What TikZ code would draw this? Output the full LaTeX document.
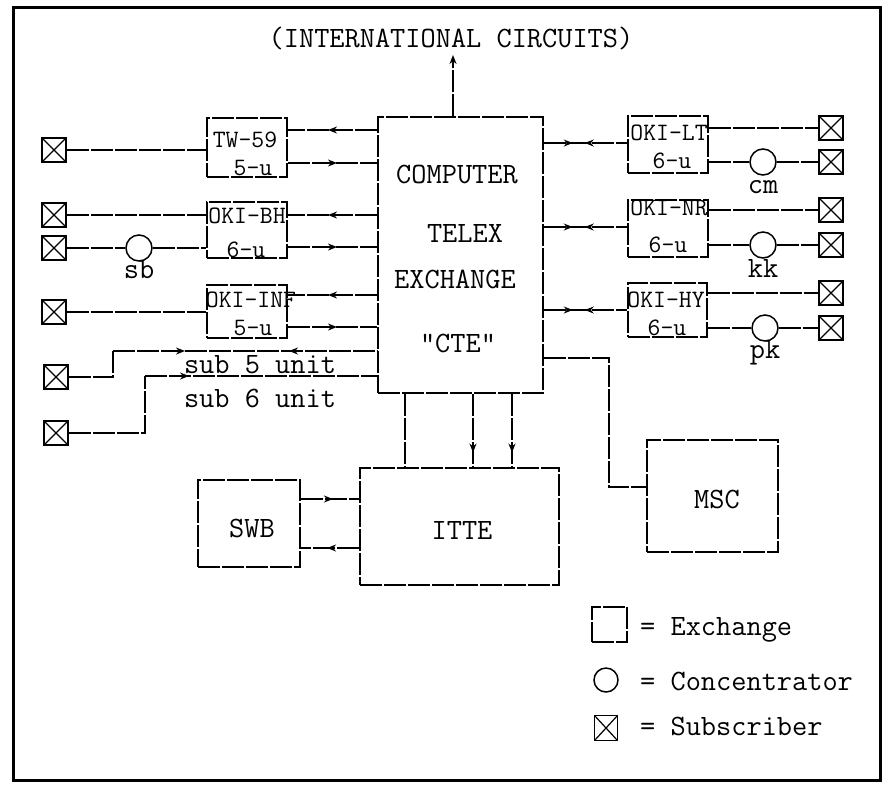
\documentclass[tikz,border=0pt]{standalone}
\usepackage{fontspec}
\usetikzlibrary{arrows.meta,decorations.markings}
\begin{document}
\begin{tikzpicture}[x=1pt,y=-1pt,
  >={Stealth[length=9pt,width=7pt]},
  ln/.style={line width=1.5pt, dash pattern=on 22pt off 2pt},
  exch/.style={draw, ln, rectangle, inner sep=0pt},
  conc/.style={draw, line width=1.5pt, circle, minimum size=26pt, inner sep=0pt},
  subscr/.style={draw, line width=1.5pt, rectangle, minimum width=24pt, minimum height=24pt, inner sep=0pt,
    path picture={\draw[line width=1.2pt] (path picture bounding box.north west) -- (path picture bounding box.south east)
      (path picture bounding box.north east) -- (path picture bounding box.south west);}},
  txt/.style={font=\ttfamily\fontsize{29.5}{32}\selectfont, inner sep=0pt, anchor=base},
  smtxt/.style={font=\ttfamily\fontsize{25}{27}\selectfont, inner sep=0pt, anchor=base},
  arr/.style={postaction={decorate}, decoration={markings, mark=at position #1 with {\arrow{>}}}},
  arrb/.style={postaction={decorate}, decoration={markings, mark=at position 29pt with {\arrow{>}}, mark=at position 50pt with {\arrow{<}}}}
]
\useasboundingbox (0,0) rectangle (882,785);
\draw[line width=3pt] (13,7) rectangle (880,780);

% title
\node[txt] (title) at (451,47) {(INTERNATIONAL CIRCUITS)};
\coordinate (intl) at (453,55);

% central exchange
\node[exch, minimum width=165pt, minimum height=276pt] (cte) at (460.5,255) {};
\node[txt] at (457,183) {COMPUTER};
\node[txt] at (465,242) {TELEX};
\node[txt] at (455,288) {EXCHANGE};
\node[txt] at (458,352) {"CTE"};

% left exchanges
\node[exch, minimum width=80pt, minimum height=59pt] (tw) at (247,147.5) {};
\node[smtxt] at (245,147) {TW-59};
\node[smtxt] at (253,175) {5-u};
\node[exch, minimum width=80pt, minimum height=56pt] (bh) at (247,230) {};
\node[smtxt] at (247,223) {OKI-BH};
\node[smtxt] at (246,257) {6-u};
\node[exch, minimum width=80pt, minimum height=53pt] (inf) at (247,311.5) {};
\node[smtxt] at (251,307) {OKI-INF};
\node[smtxt] at (253,335) {5-u};

% right exchanges
\node[exch, minimum width=80pt, minimum height=57pt] (lt) at (668,144.5) {};
\node[smtxt] at (669,140) {OKI-LT};
\node[smtxt] at (672,168) {6-u};
\node[exch, minimum width=80pt, minimum height=57pt] (nr) at (668,228.5) {};
\node[smtxt] at (669,215) {OKI-NR};
\node[smtxt] at (668,252) {6-u};
\node[exch, minimum width=79pt, minimum height=54pt] (hy) at (667.5,310) {};
\node[smtxt] at (666,307) {OKI-HY};
\node[smtxt] at (667,335) {6-u};

% lower exchanges
\node[exch, minimum width=199pt, minimum height=117pt] (itte) at (459.5,526.5) {};
\node[txt] at (462,539) {ITTE};
\node[exch, minimum width=102pt, minimum height=87pt] (swb) at (249,523.5) {};
\node[txt] at (252,537) {SWB};
\node[exch, minimum width=131pt, minimum height=112pt] (msc) at (712.5,496) {};
\node[txt] at (717,508) {MSC};

% left subscribers and concentrator
\node[subscr] (s1) at (54,150) {};
\node[subscr] (s2) at (54,215) {};
\node[subscr] (s3) at (54,248) {};
\node[subscr] (s4) at (54,312) {};
\node[subscr] (s5) at (56,377) {};
\node[subscr] (s6) at (56,433) {};
\node[conc] (sb) at (139,248) {};
\node[txt] at (139,278) {sb};

% right subscribers and concentrators
\node[subscr] (r1) at (831,128) {};
\node[subscr] (r2) at (831,162) {};
\node[subscr] (r3) at (831,210) {};
\node[subscr] (r4) at (831,245) {};
\node[subscr] (r5) at (831,293) {};
\node[subscr] (r6) at (831,328) {};
\node[conc] (cm) at (763,162) {};
\node[txt] at (763,193) {cm};
\node[conc] (kk) at (763,245) {};
\node[txt] at (763,277) {kk};
\node[conc] (pk) at (765,328) {};
\node[txt] at (765,358) {pk};

% sub unit labels
\node[txt] at (260,373) {sub 5 unit};
\node[txt] at (260,407) {sub 6 unit};

% connectors: international
\draw[ln,->] (cte.north -| intl) -- (intl);

% left side
\draw[ln] (s1) -- (s1 -| tw.west);
\draw[ln,arr=0.55] (cte.west |- 0,130) -- (tw.east |- 0,130);
\draw[ln,arr=0.55] (tw.east |- 0,163) -- (cte.west |- 0,163);
\draw[ln] (s2) -- (s2 -| bh.west);
\draw[ln] (s3) -- (sb) -- (sb -| bh.west);
\draw[ln,arr=0.55] (cte.west |- 0,215) -- (bh.east |- 0,215);
\draw[ln,arr=0.55] (bh.east |- 0,247) -- (cte.west |- 0,247);
\draw[ln] (s4) -- (s4 -| inf.west);
\draw[ln,arr=0.55] (cte.west |- 0,295) -- (inf.east |- 0,295);
\draw[ln,arr=0.55] (inf.east |- 0,327) -- (cte.west |- 0,327);
\coordinate (k5) at (113,351);
\coordinate (k6) at (145,376);
\draw[ln] (s5) -| (k5);
\draw[ln, postaction={decorate}, decoration={markings, mark=at position 72pt with {\arrow{>}}, mark=at position 185pt with {\arrow{<}}}] (k5) -- (cte.west |- k5);
\draw[ln] (s6) -| (k6);
\draw[ln, arr=44pt] (k6) -- (cte.west |- k6);

% right side
\draw[ln,arrb] (cte.east |- 0,143) -- (lt.west |- 0,143);
\draw[ln] (lt.east |- r1) -- (r1);
\draw[ln] (lt.east |- cm) -- (cm) -- (r2);
\draw[ln,arrb] (cte.east |- 0,227) -- (nr.west |- 0,227);
\draw[ln] (nr.east |- r3) -- (r3);
\draw[ln] (nr.east |- kk) -- (kk) -- (r4);
\draw[ln,arrb] (cte.east |- 0,310) -- (hy.west |- 0,310);
\draw[ln] (hy.east |- r5) -- (r5);
\draw[ln] (hy.east |- pk) -- (pk) -- (r6);

% MSC
\draw[ln] (cte.east |- 0,358) -- ++(65,0) |- (msc.west |- 0,487);

% CTE - ITTE
\draw[ln] (cte.south -| 405,0) -- (itte.north -| 405,0);
\draw[ln,arr=0.8] (cte.south -| 473,0) -- (itte.north -| 473,0);
\draw[ln,arr=0.8] (cte.south -| 512,0) -- (itte.north -| 512,0);

% SWB - ITTE
\draw[ln,arr=0.55] (swb.east |- 0,499) -- (itte.west |- 0,499);
\draw[ln,arr=0.55] (itte.west |- 0,548) -- (swb.east |- 0,548);

% legend
\node[exch, minimum width=35pt, minimum height=35pt] (lgx) at (609.5,624.5) {};
\node[conc, minimum size=24pt] (lgc) at (606,680) {};
\node[subscr, minimum width=23pt, minimum height=25pt] (lgs) at (606,728) {};
\node[txt, anchor=base west] at (640,635) {= Exchange};
\node[txt, anchor=base west] at (640,690) {= Concentrator};
\node[txt, anchor=base west] at (640,735) {= Subscriber};
\end{tikzpicture}
\end{document}
